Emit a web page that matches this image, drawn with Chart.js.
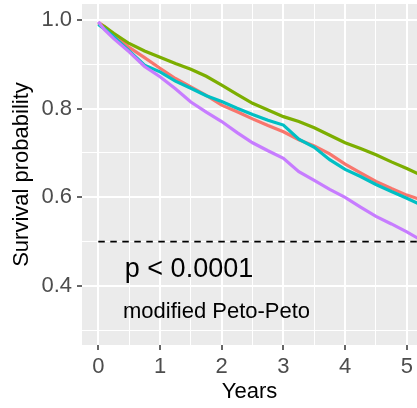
<!DOCTYPE html>
<html>
<head>
<meta charset="utf-8">
<script src="https://cdn.jsdelivr.net/npm/chart.js@4/dist/chart.umd.min.js"></script>
<style>
  html, body { margin: 0; padding: 0; background: #fff; }
  canvas { display: block; }
</style>
</head>
<body>
<canvas id="km" width="417" height="408"></canvas>
<script>
// time points (years) and survival
const years      = [0, 0.1, 0.25, 0.5, 0.75, 1.0, 1.25, 1.5, 1.75, 2.0, 2.25, 2.5, 2.75, 3.0, 3.25, 3.5, 3.75, 4.0, 4.25, 4.5, 4.75, 5.0, 5.2];
const survRed    = [0.995, 0.985, 0.968, 0.938, 0.915, 0.891, 0.868, 0.849, 0.830, 0.808, 0.793, 0.777, 0.762, 0.748, 0.730, 0.716, 0.698, 0.675, 0.655, 0.636, 0.620, 0.605, 0.596];
const survGreen  = [0.993, 0.985, 0.970, 0.947, 0.930, 0.916, 0.902, 0.889, 0.873, 0.853, 0.832, 0.812, 0.797, 0.782, 0.771, 0.757, 0.740, 0.723, 0.710, 0.696, 0.680, 0.665, 0.652];
const survCyan   = [0.990, 0.980, 0.962, 0.930, 0.898, 0.883, 0.862, 0.846, 0.829, 0.816, 0.801, 0.787, 0.774, 0.763, 0.731, 0.713, 0.685, 0.663, 0.647, 0.629, 0.613, 0.598, 0.585];
const survPurple = [0.996, 0.978, 0.958, 0.928, 0.895, 0.872, 0.845, 0.815, 0.792, 0.771, 0.746, 0.723, 0.705, 0.688, 0.658, 0.638, 0.618, 0.600, 0.578, 0.557, 0.540, 0.522, 0.506];

const xTicks = [0, 1, 2, 3, 4, 5];
const xMinor = [0.5, 1.5, 2.5, 3.5, 4.5];
const yTicks = [0.4, 0.6, 0.8, 1.0];
const yMinor = [0.3, 0.5, 0.7, 0.9];
const medianLevel = 0.5;
const pText = 'p < 0.0001';
const testText = 'modified Peto-Peto';

Chart.defaults.font.family = '"Liberation Sans", Arial, sans-serif';

const pts = (ys) => years.map((t, i) => ({ x: t, y: ys[i] }));
const curve = (ys, color, order) => ({
  data: pts(ys),
  borderColor: color,
  borderWidth: 3.2,
  pointRadius: 0,
  tension: 0,
  order: order
});

const panelBg = {
  id: 'panelBg',
  beforeDraw(chart) {
    const a = chart.chartArea;
    const ctx = chart.ctx;
    ctx.save();
    ctx.fillStyle = '#EBEBEB';
    ctx.fillRect(a.left, a.top, a.right - a.left, a.bottom - a.top);
    ctx.restore();
  }
};

const pLabel = {
  id: 'pLabel',
  afterDatasetsDraw(chart) {
    const ctx = chart.ctx;
    const x = chart.scales.x, y = chart.scales.y;
    ctx.save();
    ctx.fillStyle = '#000';
    ctx.textAlign = 'left';
    ctx.textBaseline = 'alphabetic';
    ctx.font = '27px "Liberation Sans", Arial, sans-serif';
    ctx.fillText(pText, x.getPixelForValue(0.43), y.getPixelForValue(0.42));
    ctx.font = '22px "Liberation Sans", Arial, sans-serif';
    ctx.fillText(testText, x.getPixelForValue(0.4), y.getPixelForValue(0.3285));
    ctx.restore();
  }
};

const isIn = (arr, v) => arr.some(a => Math.abs(a - v) < 1e-9);

new Chart(document.getElementById('km'), {
  type: 'line',
  data: {
    datasets: [
      curve(survRed, '#F8766D', 4),
      curve(survGreen, '#7CAE00', 3),
      curve(survCyan, '#00BFC4', 2),
      curve(survPurple, '#C77CFF', 1),
      {
        data: [{ x: 0, y: medianLevel }, { x: 5.3, y: medianLevel }],
        borderColor: '#000',
        borderWidth: 1.7,
        borderDash: [6.5, 5.5],
        pointRadius: 0,
        order: 0
      }
    ]
  },
  options: {
    responsive: false,
    animation: false,
    devicePixelRatio: 1,
    layout: { padding: { top: 4, right: 0, left: 0, bottom: 0 } },
    plugins: { legend: { display: false }, tooltip: { enabled: false } },
    scales: {
      x: {
        type: 'linear',
        min: -0.264,
        max: 5.165,
        afterBuildTicks: (axis) => {
          axis.ticks = [...xTicks, ...xMinor].sort((a, b) => a - b).map(v => ({ value: v }));
        },
        afterFit: (scale) => {
          scale.height = 63;
          scale.paddingLeft = 0;
          scale.paddingRight = 0;
        },
        border: { display: false },
        grid: {
          color: '#FFFFFF',
          lineWidth: (c) => isIn(xTicks, c.tick.value) ? 2 : 1,
          tickColor: (c) => isIn(xTicks, c.tick.value) ? '#333333' : 'rgba(0,0,0,0)',
          tickWidth: 1.5,
          tickLength: 5
        },
        ticks: {
          color: '#4D4D4D',
          font: { size: 22 },
          padding: 4,
          maxRotation: 0,
          autoSkip: false,
          callback: (v) => isIn(xTicks, v) ? String(v) : ''
        },
        title: {
          display: true,
          text: 'Years',
          color: '#000',
          font: { size: 22 },
          padding: { top: 0, bottom: 3 }
        }
      },
      y: {
        type: 'linear',
        min: 0.267,
        max: 1.036,
        afterBuildTicks: (axis) => {
          axis.ticks = [...yTicks, ...yMinor].sort((a, b) => a - b).map(v => ({ value: v }));
        },
        afterFit: (scale) => {
          scale.width = 82;
          scale.paddingTop = 0;
          scale.paddingBottom = 0;
        },
        border: { display: false },
        grid: {
          color: '#FFFFFF',
          lineWidth: (c) => isIn(yTicks, c.tick.value) ? 2 : 1,
          tickColor: (c) => isIn(yTicks, c.tick.value) ? '#333333' : 'rgba(0,0,0,0)',
          tickWidth: 1.5,
          tickLength: 5
        },
        ticks: {
          color: '#4D4D4D',
          font: { size: 22 },
          padding: 5,
          autoSkip: false,
          callback: (v) => isIn(yTicks, v) ? v.toFixed(1) : ''
        },
        title: {
          display: true,
          text: 'Survival probability',
          color: '#000',
          font: { size: 22 },
          padding: { top: 9, bottom: 0 }
        }
      }
    }
  },
  plugins: [panelBg, pLabel]
});
</script>
</body>
</html>
